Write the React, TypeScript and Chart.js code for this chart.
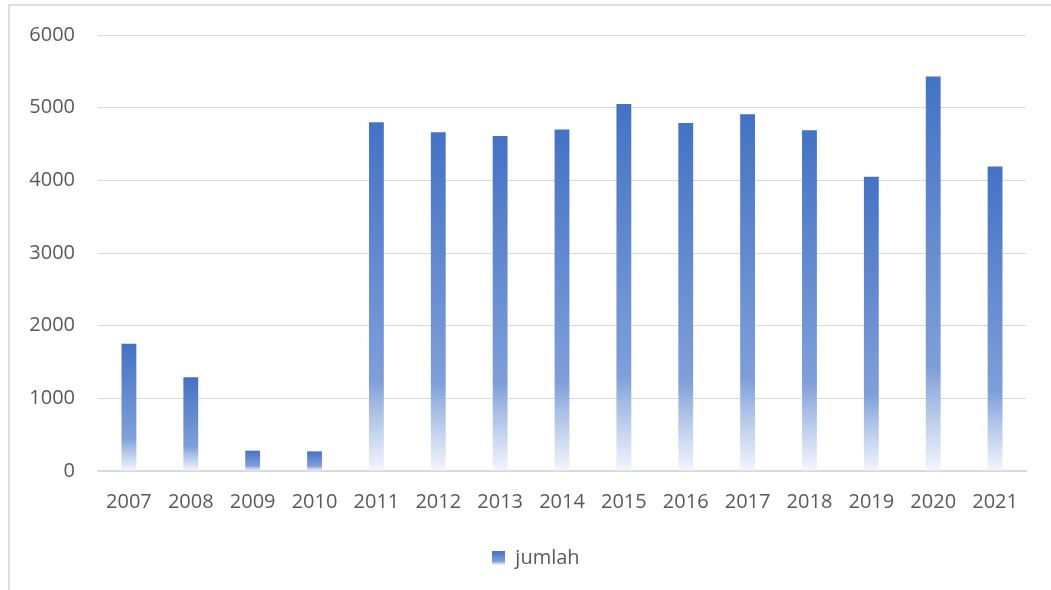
import React, { useEffect, useRef } from "react";
import { Chart, registerables } from "chart.js";

Chart.register(...registerables);

const years = ["2007", "2008", "2009", "2010", "2011", "2012", "2013", "2014", "2015", "2016", "2017", "2018", "2019", "2020", "2021"];
const jumlah = [1750, 1290, 280, 270, 4800, 4660, 4610, 4700, 5050, 4790, 4910, 4690, 4050, 5430, 4190];
const seriesLabel = "jumlah";
const yMin = 0;
const yMax = 6000;
const yStep = 1000;

const FONT = "'Open Sans', 'Noto Sans', sans-serif";
const TEXT = "#595959";
const GRID = "#D9D9D9";

function addStops(g: CanvasGradient) {
  g.addColorStop(0, "#4472C4");
  g.addColorStop(0.74, "#7F9FD9");
  g.addColorStop(0.83, "#ABC0E6");
  g.addColorStop(1, "#F3F6FC");
}

function makeLegendIcon(): HTMLCanvasElement {
  const c = document.createElement("canvas");
  c.width = 13;
  c.height = 14;
  const cx = c.getContext("2d")!;
  const g = cx.createLinearGradient(0, 0, 0, 14);
  addStops(g);
  cx.fillStyle = g;
  cx.fillRect(0, 0, 13, 14);
  return c;
}

const legendShift = {
  id: "legendShift",
  afterLayout(chart: any) {
    const lg = chart.legend;
    if (lg) lg.left += 46;
  },
};

export default function App() {
  const ref = useRef<HTMLCanvasElement | null>(null);

  useEffect(() => {
    if (!ref.current) return;
    const icon = makeLegendIcon();
    const chart = new Chart(ref.current, {
      type: "bar",
      data: {
        labels: years,
        datasets: [
          {
            label: seriesLabel,
            data: jumlah,
            barPercentage: 0.24,
            categoryPercentage: 1,
            backgroundColor: (c: any) => {
              const ch = c.chart;
              if (!ch.chartArea || c.type !== "data") return "#4472C4";
              const ys = ch.scales.y;
              const top = ys.getPixelForValue(c.raw);
              const bottom = ys.getPixelForValue(0);
              const g = ch.ctx.createLinearGradient(0, top, 0, bottom);
              addStops(g);
              return g;
            },
            borderWidth: 0,
          },
        ],
      },
      plugins: [legendShift],
      options: {
        responsive: false,
        animation: false,
        layout: { padding: { left: 0, right: 25, top: 35, bottom: 12 } },
        plugins: {
          tooltip: { enabled: false },
          legend: {
            position: "bottom",
            labels: {
              usePointStyle: true,
              pointStyle: icon as any,
              boxWidth: 13,
              boxHeight: 14,
              padding: 10,
              color: TEXT,
              font: { family: FONT, size: 20 },
            },
          },
        },
        scales: {
          x: {
            grid: { display: false, drawTicks: false },
            border: { display: true, color: GRID, width: 1.5 },
            ticks: { color: TEXT, font: { family: FONT, size: 20 }, padding: 19, maxRotation: 0 },
            afterFit: (s: any) => {
              s.height = 67;
            },
          },
          y: {
            min: yMin,
            max: yMax,
            grid: { color: GRID, lineWidth: 1, drawTicks: false },
            border: { display: false },
            ticks: {
              stepSize: yStep,
              color: TEXT,
              font: { family: FONT, size: 20 },
              padding: 23,
              callback: (v: any) => String(v),
            },
            afterFit: (s: any) => {
              s.width = 98;
            },
          },
        },
      },
    });
    return () => chart.destroy();
  }, []);

  return (
    <div style={{ position: "fixed", left: 0, top: 0, width: 1051, height: 590, overflow: "hidden", background: "#fff" }}>
      <div
        style={{
          position: "absolute",
          left: 8,
          top: 4,
          width: 1100,
          height: 700,
          borderLeft: "2px solid #DDDDDD",
          borderTop: "2px solid #DDDDDD",
        }}
      />
      <canvas ref={ref} width={1051} height={590} style={{ position: "absolute", left: 0, top: 0, display: "block" }} />
    </div>
  );
}
